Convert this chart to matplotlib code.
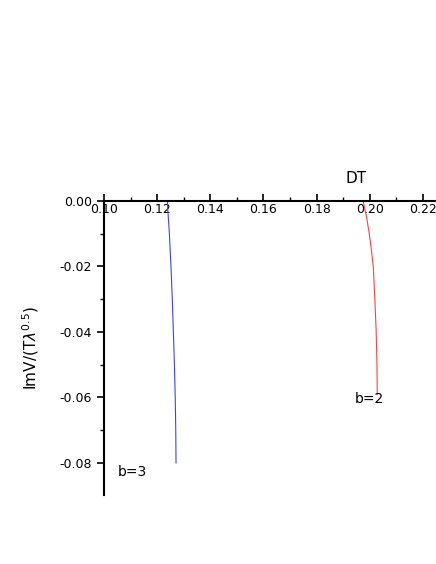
import matplotlib
matplotlib.use("Agg")
import matplotlib.pyplot as plt
from matplotlib.ticker import MultipleLocator

b3_x = [0.1238, 0.1246, 0.1252, 0.1257, 0.1261, 0.1265, 0.1268, 0.1270, 0.1271]
b3_y = [0.0, -0.01, -0.02, -0.03, -0.04, -0.05, -0.06, -0.07, -0.08]
b2_x = [0.1975, 0.1988, 0.1998, 0.2006, 0.2013, 0.2019, 0.2024, 0.2027, 0.2028]
b2_y = [0.0, -0.005, -0.01, -0.015, -0.02, -0.03, -0.04, -0.05, -0.059]

fig = plt.figure(figsize=(4.36, 5.64), dpi=100)
ax = fig.add_axes([0.2385, 0.1223, 0.7615, 0.5213])
ax.plot(b3_x, b3_y, color="#4040ff", lw=0.8)
ax.plot(b2_x, b2_y, color="#ff4040", lw=0.8)
ax.set_xlim(0.10, 0.2249)
ax.set_ylim(-0.0898, 0.0)
for s in ["right", "bottom"]:
    ax.spines[s].set_visible(False)
for s in ["left", "top"]:
    ax.spines[s].set_linewidth(1.5)
ax.xaxis.set_ticks_position("top")
ax.xaxis.set_label_position("top")
ax.xaxis.set_major_locator(MultipleLocator(0.02))
ax.xaxis.set_minor_locator(MultipleLocator(0.01))
ax.yaxis.set_major_locator(MultipleLocator(0.02))
ax.yaxis.set_minor_locator(MultipleLocator(0.01))
ax.xaxis.set_major_formatter(matplotlib.ticker.FormatStrFormatter("%.2f"))
ax.yaxis.set_major_formatter(matplotlib.ticker.FormatStrFormatter("%.2f"))
ax.tick_params(axis="x", which="major", direction="out", length=5, width=1.2, labelsize=9, pad=-16)
ax.tick_params(axis="x", which="minor", direction="out", length=3, width=1.0)
ax.tick_params(axis="y", which="major", direction="out", length=5, width=1.2, labelsize=9)
ax.tick_params(axis="y", which="minor", direction="out", length=3, width=1.0)
ax.set_xticks([0.10,0.12,0.14,0.16,0.18,0.20,0.22])
ax.set_xlabel("DT", fontsize=11, labelpad=4)
ax.xaxis.set_label_coords(0.76, 1.06)
ax.set_ylabel(r"ImV/(T$\lambda^{0.5}$)", fontsize=11)
ax.yaxis.set_label_coords(-0.19, 0.5)
ax.text(0.1945, -0.0605, "b=2", fontsize=10, va="center")
ax.text(0.1053, -0.0827, "b=3", fontsize=10, va="center")
fig.savefig("out.png", dpi=100)
